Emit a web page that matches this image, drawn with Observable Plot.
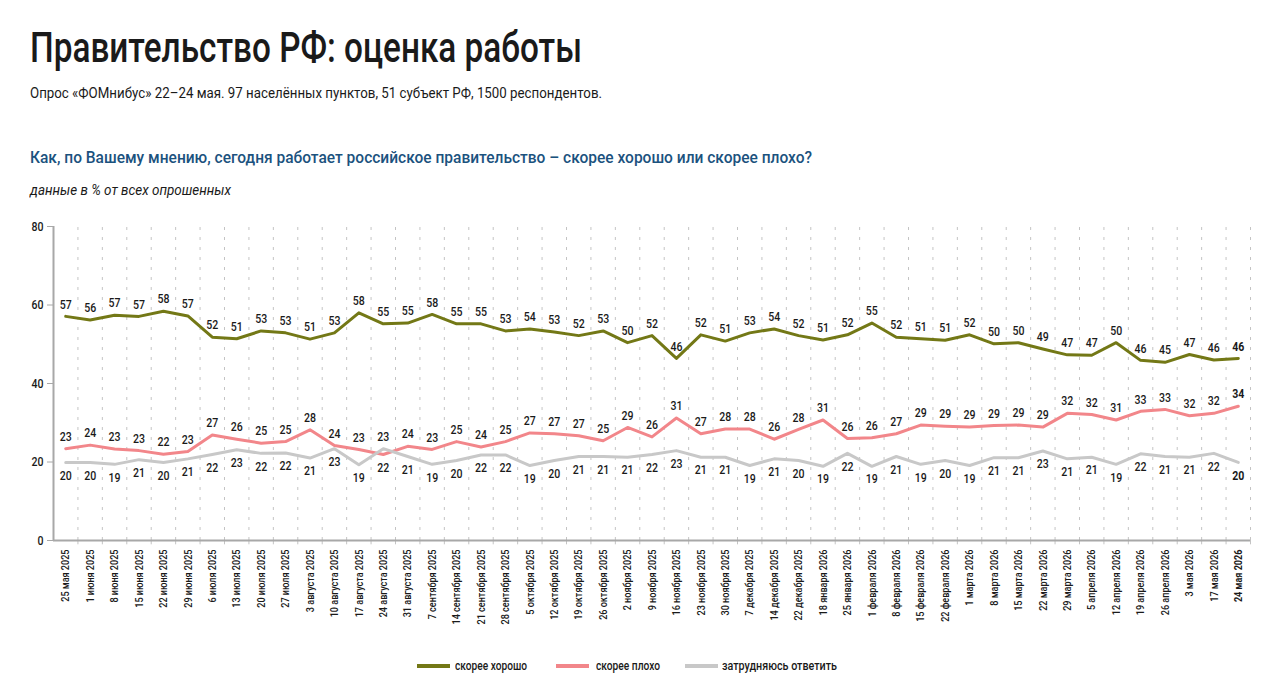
<!DOCTYPE html>
<html lang="ru">
<head>
<meta charset="utf-8">
<script src="https://cdn.jsdelivr.net/npm/d3@7"></script>
<script src="https://cdn.jsdelivr.net/npm/@observablehq/plot@0.6"></script>
<style>
  html, body { margin: 0; padding: 0; background: #fff; }
  body { width: 1280px; height: 700px; position: relative; overflow: hidden;
         font-family: Roboto, "Noto Sans", sans-serif; color: #1a1a1a; }
  .abs { position: absolute; white-space: nowrap; transform-origin: 0 0; }
  #title { left: 30px; top: 22.5px; font-size: 42px; line-height: 50px; color: #1a1a1a; font-weight: 500; }
  #sub { left: 30px; top: 82.5px; font-size: 14px; line-height: 20px; }
  #q { left: 30px; top: 147px; font-size: 16px; line-height: 22px; color: #1b527e; font-weight: 500; }
  #note { left: 30px; top: 179.5px; font-size: 14px; line-height: 20px; font-style: italic; }
  #chart { left: 0; top: 200px; }
  .lg { position: absolute; top: 658px; font-size: 12.5px; line-height: 16px; white-space: nowrap; transform-origin: 0 0; font-weight: 500; }
  .sw { position: absolute; top: 664px; width: 33px; height: 4px; }
</style>
</head>
<body>
<div id="title" class="abs">Правительство РФ: оценка работы</div>
<div id="sub" class="abs">Опрос «ФОМнибус» 22–24 мая. 97 населённых пунктов, 51 субъект РФ, 1500 респондентов.</div>
<div id="q" class="abs">Как, по Вашему мнению, сегодня работает российское правительство – скорее хорошо или скорее плохо?</div>
<div id="note" class="abs">данные в % от всех опрошенных</div>
<div id="chart" class="abs"></div>
<script>
const dates = [
  "25 мая 2025","1 июня 2025","8 июня 2025","15 июня 2025","22 июня 2025","29 июня 2025",
  "6 июля 2025","13 июля 2025","20 июля 2025","27 июля 2025","3 августа 2025","10 августа 2025",
  "17 августа 2025","24 августа 2025","31 августа 2025","7 сентября 2025","14 сентября 2025",
  "21 сентября 2025","28 сентября 2025","5 октября 2025","12 октября 2025","19 октября 2025",
  "26 октября 2025","2 ноября 2025","9 ноября 2025","16 ноября 2025","23 ноября 2025",
  "30 ноября 2025","7 декабря 2025","14 декабря 2025","22 декабря 2025","18 января 2026",
  "25 января 2026","1 февраля 2026","8 февраля 2026","15 февраля 2026","22 февраля 2026",
  "1 марта 2026","8 марта 2026","15 марта 2026","22 марта 2026","29 марта 2026","5 апреля 2026",
  "12 апреля 2026","19 апреля 2026","26 апреля 2026","3 мая 2026","17 мая 2026","24 мая 2026"
];
const good = [57.1,56.2,57.4,57.1,58.4,57.2,51.8,51.4,53.4,52.9,51.3,52.9,58.0,55.2,55.4,57.6,55.2,
  55.2,53.4,53.9,53.1,52.2,53.4,50.4,52.2,46.4,52.4,50.8,52.9,53.9,52.2,51.1,52.4,55.4,51.8,51.4,
  51.0,52.4,50.1,50.4,48.8,47.3,47.2,50.4,45.9,45.4,47.4,46.0,46.4];
const bad = [23.4,24.3,23.3,22.9,22.0,22.7,26.9,25.8,24.8,25.2,28.2,24.2,23.2,21.9,24.0,23.2,25.2,
  23.8,25.2,27.4,27.2,26.7,25.4,28.8,26.4,31.2,27.2,28.4,28.4,25.8,28.3,30.7,26.0,26.2,27.2,29.4,
  29.1,28.9,29.3,29.4,28.9,32.4,32.1,30.7,32.9,33.4,31.8,32.4,34.2];
const hard = [19.9,19.9,19.4,20.6,19.9,20.8,21.9,23.1,22.2,22.3,21.0,23.4,19.3,23.4,21.4,19.4,20.4,
  21.8,21.8,19.1,20.4,21.4,21.4,21.2,21.9,22.9,21.2,21.2,19.1,20.8,20.4,18.9,22.2,18.9,21.4,19.4,
  20.4,19.1,21.1,21.1,22.8,20.8,21.2,19.4,22.1,21.4,21.2,22.2,19.9];
const seriesNames = ["скорее хорошо","скорее плохо","затрудняюсь ответить"];
const seriesColors = ["#737816","#f2868a","#c8c8c8"];
const yTicks = [0,20,40,60,80];

const W = 1280, H = 440, ML = 53, MR = 30, MT = 26, MB = 100;
const step = (W - ML - MR) / dates.length;
const last = dates[dates.length - 1];

const rows = [];
const labels = [];
[good, bad, hard].forEach((arr, si) => {
  arr.forEach((v, i) => {
    rows.push({date: dates[i], value: v, series: seriesNames[si]});
    let pos;
    if (si === 0) pos = "above";
    else {
      const other = si === 1 ? hard[i] : bad[i];
      pos = v >= other ? "above" : "below";
    }
    labels.push({date: dates[i], value: v, text: String(Math.round(v)), pos, last: dates[i] === last});
  });
});

const textOpts = {x: "date", y: "value", text: "text", fontSize: 13, fill: "#1a1a1a"};
const chart = Plot.plot({
  width: W, height: H,
  marginLeft: ML, marginRight: MR, marginTop: MT, marginBottom: MB,
  style: {fontFamily: 'Roboto, "Noto Sans", sans-serif', background: "transparent", overflow: "visible"},
  x: {type: "band", domain: dates, padding: 0, round: false},
  y: {domain: [0, 80]},
  color: {domain: seriesNames, range: seriesColors},
  marks: [
    Plot.ruleX(dates, {x: d => d, y1: 0, y2: 80, dx: step / 2, stroke: "#c4c4c4", strokeWidth: 1, strokeDasharray: "3,7"}),
    Plot.ruleX(dates, {x: d => d, y1: 0, y2: -1.1, dx: step / 2, stroke: "#c4c4c4", strokeWidth: 1}),
    Plot.ruleY([0], {stroke: "#a8a8a8", strokeWidth: 2}),
    Plot.ruleX([dates[0]], {x: d => d, y1: 0, y2: 80, dx: -step / 2, stroke: "#a8a8a8", strokeWidth: 2}),
    Plot.axisY({ticks: yTicks, tickSize: 6, tickPadding: 4, fontSize: 13, fontWeight: 500, stroke: "#a8a8a8", fill: "#1a1a1a", label: null}),
    Plot.axisX({ticks: dates.slice(0, -1), tickRotate: -90, tickSize: 0, tickPadding: 9, fontSize: 11.5, fontWeight: 500, fill: "#1a1a1a", label: null}),
    Plot.axisX({ticks: [last], tickRotate: -90, tickSize: 0, tickPadding: 9, fontSize: 11.5, fontWeight: "bold", fill: "#1a1a1a", label: null}),
    Plot.line(rows, {x: "date", y: "value", z: "series", stroke: "series", strokeWidth: 3, curve: "linear"}),
    Plot.text(labels.filter(d => d.pos === "above" && !d.last), {...textOpts, dy: -12, fontWeight: 500}),
    Plot.text(labels.filter(d => d.pos === "above" && d.last), {...textOpts, dy: -12, fontWeight: "bold"}),
    Plot.text(labels.filter(d => d.pos === "below" && !d.last), {...textOpts, dy: 13, fontWeight: 500}),
    Plot.text(labels.filter(d => d.pos === "below" && d.last), {...textOpts, dy: 13, fontWeight: "bold"})
  ]
});
document.getElementById("chart").appendChild(chart);

// horizontal condensing of SVG texts (reference uses a condensed face)
function squeeze(nodes, f) {
  nodes.forEach(t => {
    const tr = t.getAttribute("transform");
    if (tr) t.setAttribute("transform", tr + ` scale(${f},1)`);
    else {
      const x = +t.getAttribute("x") || 0;
      t.setAttribute("transform", `translate(${x},0) scale(${f},1) translate(${-x},0)`);
    }
  });
}
const xl = [...chart.querySelectorAll('g[aria-label="x-axis tick label"] text')];
const refX = xl.find(t => t.textContent === "14 сентября 2025");
const fx = refX ? 75 / refX.getComputedTextLength() : 0.8;
squeeze(xl, fx);
const dl = [...chart.querySelectorAll('g[aria-label="text"] text')];
const refD = dl.find(t => t.textContent === "57");
const fd = refD ? 12 / refD.getComputedTextLength() : 0.82;
squeeze(dl, fd);
squeeze([...chart.querySelectorAll('g[aria-label="y-axis tick label"] text')], fd);

// fit header texts to reference widths
function fit(el, target) {
  const w = el.getBoundingClientRect().width;
  if (w > 0) el.style.transform = `scaleX(${target / w})`;
}
fit(document.getElementById("title"), 552);
fit(document.getElementById("sub"), 572);
fit(document.getElementById("q"), 782);
fit(document.getElementById("note"), 201);

// legend
const swX = [417, 556, 685], txX = [455, 596, 722], txW = [72, 64, 115];
seriesNames.forEach((name, i) => {
  const sw = document.createElement("div");
  sw.className = "sw";
  sw.style.left = swX[i] + "px";
  sw.style.background = seriesColors[i];
  document.body.appendChild(sw);
  const t = document.createElement("div");
  t.className = "lg";
  t.style.left = txX[i] + "px";
  t.textContent = name;
  document.body.appendChild(t);
  fit(t, txW[i]);
});
</script>
</body>
</html>
